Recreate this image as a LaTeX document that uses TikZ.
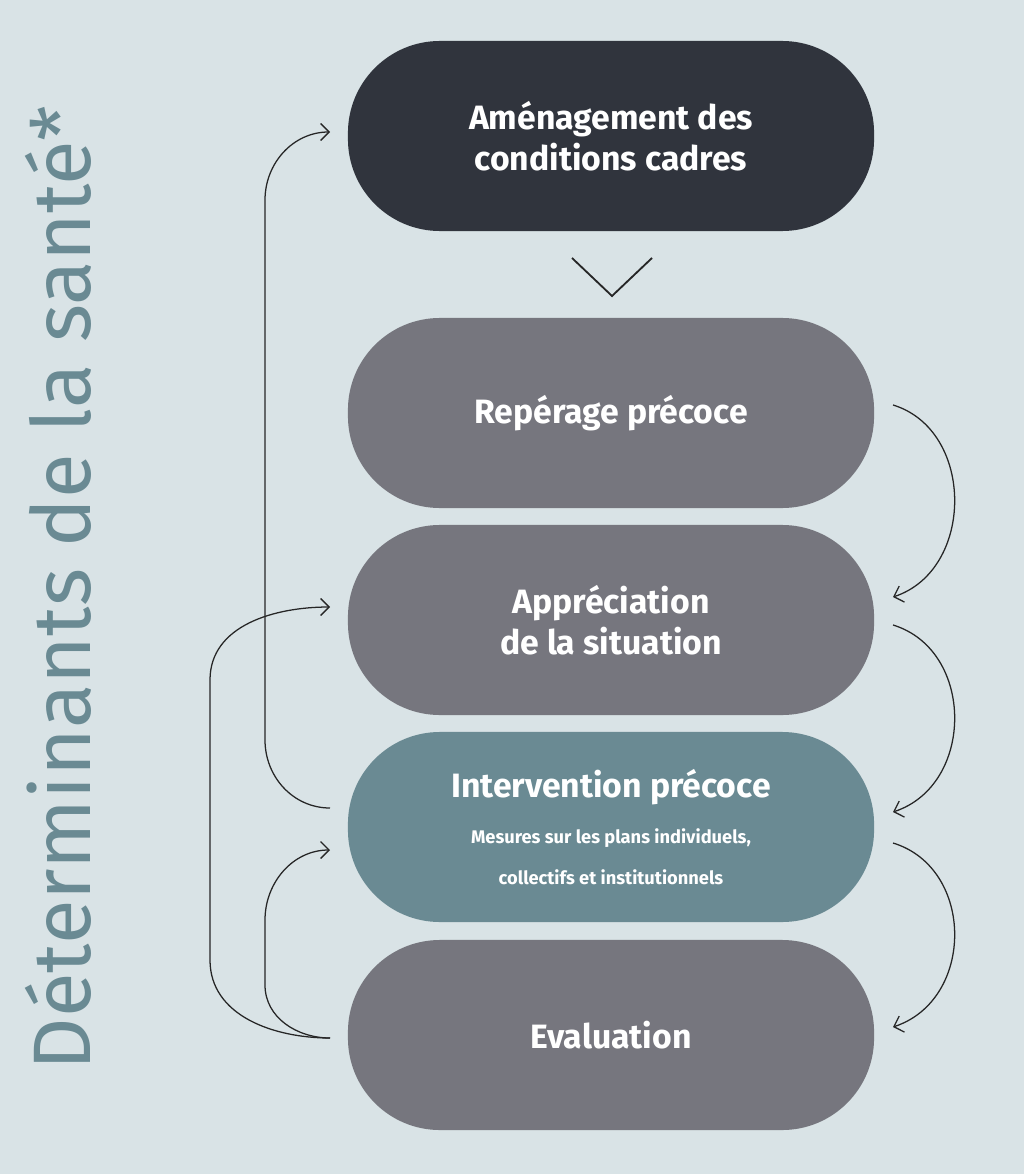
\documentclass[tikz,border=0pt]{standalone}
\usepackage{fontspec}
\setmainfont{Fira Sans}
\usetikzlibrary{arrows.meta}
\definecolor{bg}{HTML}{D9E3E6}
\definecolor{dark}{HTML}{30343D}
\definecolor{grey}{HTML}{76767E}
\definecolor{teal}{HTML}{6A8A93}
\tikzset{
  pill/.style={fill=#1, rounded corners=2.3cm, minimum width=13.15cm, minimum height=4.75cm,
    text=white, align=center, font=\fontsize{24}{29}\selectfont\bfseries},
  loop/.style={draw=black!85, line width=0.9pt, -{Straight Barb[length=6pt,width=12pt]}}
}
\begin{document}
\begin{tikzpicture}[x=0.025cm,y=-0.025cm]
      \fill[bg] (0,0) rectangle (1024,1174);
      \node[pill=dark] (ame) at (611,136) {Aménagement des\\conditions cadres};
      \node[pill=grey] (rep) at (611,413) {Repérage précoce};
      \node[pill=grey] (app) at (611,620) {Appréciation\\de la situation};
      \node[pill=teal] (int) at (611,827) {Intervention précoce\\[4pt]
        \fontsize{13}{17}\selectfont Mesures sur les plans individuels,\\
        \fontsize{13}{17}\selectfont collectifs et institutionnels};
      \node[pill=grey] (eva) at (611,1035) {Evaluation};
      \node[rotate=90, text=teal, font=\fontsize{58}{60}\selectfont] (det) at (58,588) {Déterminants de la santé*};
      \coordinate (c1) at (612,296);
      \draw[black!85, line width=1.3pt] (572,258) -- (c1) -- (652,258);
      % right side
      \coordinate (r1) at (893,405); \coordinate (r2) at (893,597);
      \coordinate (r3) at (893,625); \coordinate (r4) at (893,812);
      \coordinate (r5) at (893,843); \coordinate (r6) at (893,1027);
      \draw[loop] (r1) .. controls (975,430) and (975,570) .. (r2);
      \draw[loop] (r3) .. controls (975,650) and (975,785) .. (r4);
      \draw[loop] (r5) .. controls (975,868) and (975,1000) .. (r6);
      % left side
      \coordinate (l1) at (330,808); \coordinate (l2) at (330,132);
      \coordinate (l3) at (330,1038); \coordinate (l4) at (330,607);
      \coordinate (l5) at (330,1038); \coordinate (l6) at (330,850);
      \draw[loop] (l1) to[out=180,in=-90] (265,740) -- (265,200) to[out=90,in=180] (l2);
      \draw[loop] (l3) to[out=180,in=-90] (210,960) -- (210,680) to[out=90,in=180] (l4);
      \draw[loop] (l5) to[out=180,in=-90] (265,985) -- (265,920) to[out=90,in=180] (l6);
\end{tikzpicture}
\end{document}
